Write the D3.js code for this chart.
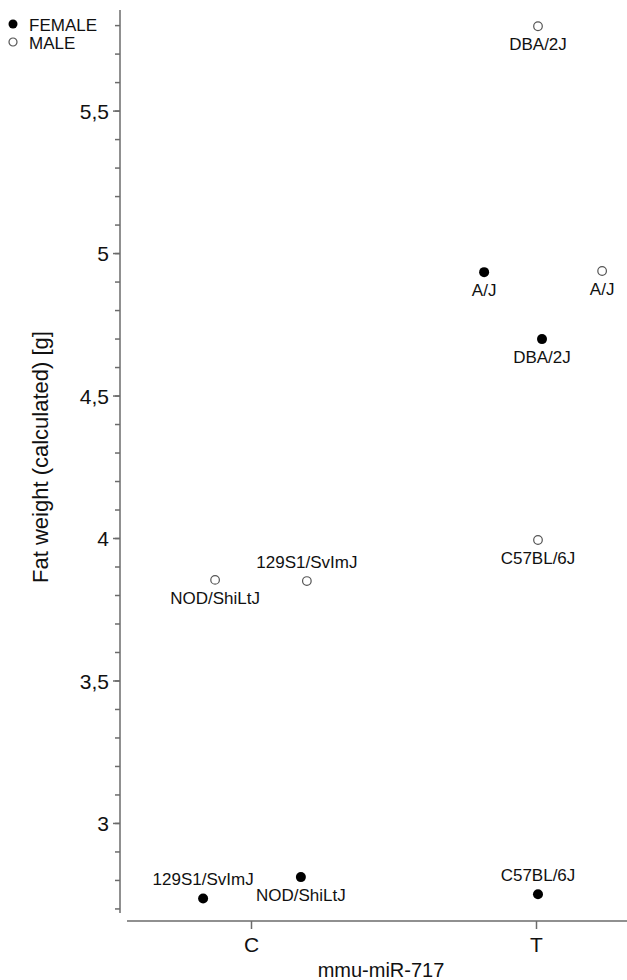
<!DOCTYPE html>
<html>
<head>
<meta charset="utf-8">
<script src="https://cdn.jsdelivr.net/npm/d3@7"></script>
<style>
  html, body { margin: 0; padding: 0; background: #fff; }
  svg { display: block; font-family: "Liberation Sans", Arial, sans-serif; }
</style>
</head>
<body>
<div id="chart"></div>
<script>
// values
const strains   = ['129S1/SvImJ', 'NOD/ShiLtJ', 'C57BL/6J', 'A/J', 'DBA/2J',
                   'NOD/ShiLtJ', '129S1/SvImJ', 'A/J', 'DBA/2J', 'C57BL/6J'];
const sexes     = ['FEMALE', 'FEMALE', 'FEMALE', 'FEMALE', 'FEMALE',
                   'MALE', 'MALE', 'MALE', 'MALE', 'MALE'];
const genotypes = ['C', 'C', 'T', 'T', 'T', 'C', 'C', 'T', 'T', 'T'];
const fatWeight = [2.735, 2.81, 2.75, 4.933, 4.698, 3.853, 3.849, 4.937, 5.796, 3.993];
// horizontal jitter, in units of category spacing
const jitter    = [-0.168, 0.175, 0.007, -0.182, 0.021, -0.126, 0.196, 0.232, 0.007, 0.007];

const categories = ['C', 'T'];
const legendKeys = ['FEMALE', 'MALE'];
const majorTicks = [3, 3.5, 4, 4.5, 5, 5.5];
const minorTicks = d3.range(27, 59).map(d => d / 10);

// where the strain label sits relative to its point
const labelSide = ['above', 'below', 'above', 'below', 'below',
                   'below', 'above', 'below', 'below', 'below'];

const W = 627, H = 980;
const axisColor = '#6b6b6b';

const svg = d3.select('#chart').append('svg')
  .attr('width', W).attr('height', H);

const y = d3.scaleLinear().domain([2.684, 5.853]).range([913, 10]);
const x = d3.scalePoint().domain(categories).range([251, 536]);

const comma = d3.formatLocale({ decimal: ',', thousands: '.', grouping: [3], currency: ['', ''] });
const fmt = v => comma.format('~g')(v);

// y axis
const gy = svg.append('g').attr('transform', 'translate(120,0)');
gy.call(d3.axisLeft(y).tickValues(minorTicks).tickSize(5).tickFormat(''))
  .call(g => g.select('.domain').remove());
gy.append('g')
  .call(d3.axisLeft(y).tickValues(majorTicks).tickSize(7).tickPadding(4).tickFormat(fmt))
  .call(g => g.select('.domain').remove())
  .call(g => g.selectAll('text')
    .attr('font-size', 21).attr('font-family', '"Liberation Sans", Arial, sans-serif')
    .attr('fill', '#111').attr('dy', '0.36em'));
gy.append('line').attr('x1', 0).attr('x2', 0).attr('y1', y.range()[1]).attr('y2', y.range()[0]);
gy.selectAll('line').attr('stroke', axisColor).attr('stroke-width', 1.5);

// x axis
const gx = svg.append('g').attr('transform', 'translate(0,921)');
gx.call(d3.axisBottom(x).tickSize(8).tickPadding(8))
  .call(g => g.select('.domain').remove())
  .call(g => g.selectAll('text')
    .attr('font-size', 21).attr('font-family', '"Liberation Sans", Arial, sans-serif')
    .attr('fill', '#111'));
gx.append('line').attr('x1', 127).attr('x2', W).attr('y1', 0).attr('y2', 0);
gx.selectAll('line').attr('stroke', axisColor).attr('stroke-width', 1.5);

// axis titles
svg.append('text')
  .attr('transform', 'translate(48,457) rotate(-90)')
  .attr('text-anchor', 'middle')
  .attr('font-size', 22).attr('fill', '#111')
  .text('Fat weight (calculated) [g]');

svg.append('text')
  .attr('x', 381).attr('y', 977)
  .attr('text-anchor', 'middle')
  .attr('font-size', 20).attr('fill', '#111')
  .text('mmu-miR-717');

// points
const points = strains.map((s, i) => ({
  strain: s, sex: sexes[i], genotype: genotypes[i], value: fatWeight[i],
  jitter: jitter[i], side: labelSide[i]
}));
const cx = d => x(d.genotype) + d.jitter * x.step();

const gp = svg.append('g');
gp.selectAll('circle').data(points).join('circle')
  .attr('cx', cx)
  .attr('cy', d => y(d.value))
  .attr('r', d => d.sex === 'FEMALE' ? 5 : 4.3)
  .attr('fill', d => d.sex === 'FEMALE' ? '#000' : '#fff')
  .attr('stroke', d => d.sex === 'FEMALE' ? 'none' : '#555')
  .attr('stroke-width', 1.2);

gp.selectAll('text').data(points).join('text')
  .attr('x', cx)
  .attr('y', d => y(d.value) + (d.side === 'above' ? -13 : 24))
  .attr('text-anchor', 'middle')
  .attr('font-size', 17).attr('fill', '#111')
  .text(d => d.strain);

// legend
const lg = svg.append('g').attr('class', 'legend');
const li = lg.selectAll('g').data(legendKeys).join('g')
  .attr('transform', (d, i) => `translate(13,${24 + i * 18})`);
li.append('circle')
  .attr('r', d => d === 'FEMALE' ? 4.5 : 4)
  .attr('fill', d => d === 'FEMALE' ? '#000' : '#fff')
  .attr('stroke', d => d === 'FEMALE' ? 'none' : '#555')
  .attr('stroke-width', 1.2);
li.append('text')
  .attr('x', 16).attr('y', 6.5)
  .attr('font-size', 17).attr('fill', '#111')
  .text(d => d);
</script>
</body>
</html>
